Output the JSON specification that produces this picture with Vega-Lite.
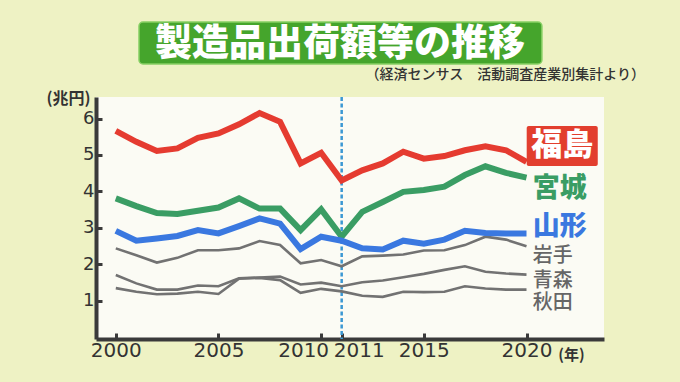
{
  "$schema": "https://vega.github.io/schema/vega-lite/v6.json",
  "width": 508,
  "height": 242,
  "autosize": {"type": "none"},
  "padding": {"left": 96, "top": 97, "right": 76, "bottom": 43},
  "background": "#eef2c4",
  "config": {"view": {"fill": "#fbfbf4", "stroke": null}, "font": "DejaVu Sans"},
  "title": {
    "text": "製造品出荷額等の推移",
    "font": "Noto Sans CJK JP",
    "fontSize": 37,
    "fontWeight": 900,
    "color": "#ffffff",
    "anchor": "middle",
    "dx": -10,
    "offset": -43
  },
  "datasets": {
    "series": [
      {"year": 2000, "pref": "福島", "value": 5.66}, {"year": 2001, "pref": "福島", "value": 5.36}, {"year": 2002, "pref": "福島", "value": 5.11}, {"year": 2003, "pref": "福島", "value": 5.18}, {"year": 2004, "pref": "福島", "value": 5.47}, {"year": 2005, "pref": "福島", "value": 5.59}, {"year": 2006, "pref": "福島", "value": 5.84}, {"year": 2007, "pref": "福島", "value": 6.15}, {"year": 2008, "pref": "福島", "value": 5.91}, {"year": 2009, "pref": "福島", "value": 4.77}, {"year": 2010, "pref": "福島", "value": 5.06}, {"year": 2011, "pref": "福島", "value": 4.30}, {"year": 2012, "pref": "福島", "value": 4.58}, {"year": 2013, "pref": "福島", "value": 4.77}, {"year": 2014, "pref": "福島", "value": 5.09}, {"year": 2015, "pref": "福島", "value": 4.90}, {"year": 2016, "pref": "福島", "value": 4.97}, {"year": 2017, "pref": "福島", "value": 5.13}, {"year": 2018, "pref": "福島", "value": 5.24}, {"year": 2019, "pref": "福島", "value": 5.13}, {"year": 2020, "pref": "福島", "value": 4.81},
      {"year": 2000, "pref": "宮城", "value": 3.81}, {"year": 2001, "pref": "宮城", "value": 3.60}, {"year": 2002, "pref": "宮城", "value": 3.41}, {"year": 2003, "pref": "宮城", "value": 3.38}, {"year": 2004, "pref": "宮城", "value": 3.47}, {"year": 2005, "pref": "宮城", "value": 3.56}, {"year": 2006, "pref": "宮城", "value": 3.81}, {"year": 2007, "pref": "宮城", "value": 3.53}, {"year": 2008, "pref": "宮城", "value": 3.53}, {"year": 2009, "pref": "宮城", "value": 2.94}, {"year": 2010, "pref": "宮城", "value": 3.51}, {"year": 2011, "pref": "宮城", "value": 2.76}, {"year": 2012, "pref": "宮城", "value": 3.44}, {"year": 2013, "pref": "宮城", "value": 3.71}, {"year": 2014, "pref": "宮城", "value": 3.99}, {"year": 2015, "pref": "宮城", "value": 4.04}, {"year": 2016, "pref": "宮城", "value": 4.13}, {"year": 2017, "pref": "宮城", "value": 4.45}, {"year": 2018, "pref": "宮城", "value": 4.69}, {"year": 2019, "pref": "宮城", "value": 4.51}, {"year": 2020, "pref": "宮城", "value": 4.38},
      {"year": 2000, "pref": "山形", "value": 2.92}, {"year": 2001, "pref": "山形", "value": 2.65}, {"year": 2002, "pref": "山形", "value": 2.71}, {"year": 2003, "pref": "山形", "value": 2.78}, {"year": 2004, "pref": "山形", "value": 2.94}, {"year": 2005, "pref": "山形", "value": 2.85}, {"year": 2006, "pref": "山形", "value": 3.05}, {"year": 2007, "pref": "山形", "value": 3.26}, {"year": 2008, "pref": "山形", "value": 3.12}, {"year": 2009, "pref": "山形", "value": 2.42}, {"year": 2010, "pref": "山形", "value": 2.76}, {"year": 2011, "pref": "山形", "value": 2.65}, {"year": 2012, "pref": "山形", "value": 2.44}, {"year": 2013, "pref": "山形", "value": 2.41}, {"year": 2014, "pref": "山形", "value": 2.65}, {"year": 2015, "pref": "山形", "value": 2.57}, {"year": 2016, "pref": "山形", "value": 2.68}, {"year": 2017, "pref": "山形", "value": 2.92}, {"year": 2018, "pref": "山形", "value": 2.86}, {"year": 2019, "pref": "山形", "value": 2.85}, {"year": 2020, "pref": "山形", "value": 2.85},
      {"year": 2000, "pref": "岩手", "value": 2.44}, {"year": 2001, "pref": "岩手", "value": 2.25}, {"year": 2002, "pref": "岩手", "value": 2.05}, {"year": 2003, "pref": "岩手", "value": 2.18}, {"year": 2004, "pref": "岩手", "value": 2.39}, {"year": 2005, "pref": "岩手", "value": 2.39}, {"year": 2006, "pref": "岩手", "value": 2.44}, {"year": 2007, "pref": "岩手", "value": 2.64}, {"year": 2008, "pref": "岩手", "value": 2.53}, {"year": 2009, "pref": "岩手", "value": 2.03}, {"year": 2010, "pref": "岩手", "value": 2.12}, {"year": 2011, "pref": "岩手", "value": 1.95}, {"year": 2012, "pref": "岩手", "value": 2.22}, {"year": 2013, "pref": "岩手", "value": 2.24}, {"year": 2014, "pref": "岩手", "value": 2.27}, {"year": 2015, "pref": "岩手", "value": 2.38}, {"year": 2016, "pref": "岩手", "value": 2.39}, {"year": 2017, "pref": "岩手", "value": 2.53}, {"year": 2018, "pref": "岩手", "value": 2.76}, {"year": 2019, "pref": "岩手", "value": 2.68}, {"year": 2020, "pref": "岩手", "value": 2.50},
      {"year": 2000, "pref": "青森", "value": 1.71}, {"year": 2001, "pref": "青森", "value": 1.48}, {"year": 2002, "pref": "青森", "value": 1.31}, {"year": 2003, "pref": "青森", "value": 1.31}, {"year": 2004, "pref": "青森", "value": 1.42}, {"year": 2005, "pref": "青森", "value": 1.40}, {"year": 2006, "pref": "青森", "value": 1.62}, {"year": 2007, "pref": "青森", "value": 1.64}, {"year": 2008, "pref": "青森", "value": 1.67}, {"year": 2009, "pref": "青森", "value": 1.45}, {"year": 2010, "pref": "青森", "value": 1.50}, {"year": 2011, "pref": "青森", "value": 1.40}, {"year": 2012, "pref": "青森", "value": 1.51}, {"year": 2013, "pref": "青森", "value": 1.56}, {"year": 2014, "pref": "青森", "value": 1.65}, {"year": 2015, "pref": "青森", "value": 1.74}, {"year": 2016, "pref": "青森", "value": 1.85}, {"year": 2017, "pref": "青森", "value": 1.95}, {"year": 2018, "pref": "青森", "value": 1.80}, {"year": 2019, "pref": "青森", "value": 1.75}, {"year": 2020, "pref": "青森", "value": 1.72},
      {"year": 2000, "pref": "秋田", "value": 1.35}, {"year": 2001, "pref": "秋田", "value": 1.25}, {"year": 2002, "pref": "秋田", "value": 1.18}, {"year": 2003, "pref": "秋田", "value": 1.20}, {"year": 2004, "pref": "秋田", "value": 1.25}, {"year": 2005, "pref": "秋田", "value": 1.19}, {"year": 2006, "pref": "秋田", "value": 1.61}, {"year": 2007, "pref": "秋田", "value": 1.63}, {"year": 2008, "pref": "秋田", "value": 1.57}, {"year": 2009, "pref": "秋田", "value": 1.22}, {"year": 2010, "pref": "秋田", "value": 1.33}, {"year": 2011, "pref": "秋田", "value": 1.26}, {"year": 2012, "pref": "秋田", "value": 1.14}, {"year": 2013, "pref": "秋田", "value": 1.11}, {"year": 2014, "pref": "秋田", "value": 1.25}, {"year": 2015, "pref": "秋田", "value": 1.24}, {"year": 2016, "pref": "秋田", "value": 1.25}, {"year": 2017, "pref": "秋田", "value": 1.40}, {"year": 2018, "pref": "秋田", "value": 1.34}, {"year": 2019, "pref": "秋田", "value": 1.31}, {"year": 2020, "pref": "秋田", "value": 1.31}
    ]
  },
  "layer": [
    {
      "data": {"values": [{"year": 2001.13, "year2": 2020.75, "value": 8.646, "value2": 7.495}]},
      "mark": {"type": "rect", "fill": "#45a52c", "stroke": "#86cf63", "strokeWidth": 1.5, "cornerRadius": 4},
      "encoding": {
        "x": {"field": "year", "type": "quantitative", "scale": {"domain": [1999.036, 2023.774]}},
        "x2": {"field": "year2"},
        "y": {"field": "value", "type": "quantitative", "scale": {"domain": [-0.045, 6.59]}},
        "y2": {"field": "value2"}
      }
    },
    {
      "data": {"values": [{"year": 2011}]},
      "mark": {"type": "rule", "color": "#3b98d3", "strokeDash": [4, 2.5], "strokeWidth": 2.5},
      "encoding": {
        "x": {"field": "year", "type": "quantitative", "scale": {"domain": [1999.036, 2023.774]}}
      }
    },
    {
      "data": {"name": "series"},
      "transform": [{"filter": {"field": "pref", "oneOf": ["岩手", "青森", "秋田"]}}],
      "mark": {"type": "line", "strokeWidth": 2.6},
      "encoding": {
        "x": {
          "field": "year", "type": "quantitative",
          "scale": {"domain": [1999.036, 2023.774]},
          "axis": {
            "values": [2000, 2005, 2010, 2011, 2015, 2020],
            "format": "d",
            "title": "(年)",
            "titleX": 475, "titleY": 15,
            "titleAlign": "center", "titleBaseline": "middle",
            "titleFont": "Noto Sans CJK JP", "titleFontSize": 15, "titleFontWeight": "bold", "titleColor": "#333333",
            "labelFont": "DejaVu Sans", "labelFontSize": 20, "labelColor": "#333333",
            "labelPadding": 7, "labelFlush": false, "labelOverlap": false,
            "labelOffset": {"condition": [{"test": "datum.value == 2010", "value": -18}, {"test": "datum.value == 2011", "value": 17}], "value": 0},
            "domainColor": "#3a3a3a", "domainWidth": 4,
            "tickColor": "#3a3a3a", "tickWidth": 3, "tickSize": -6,
            "grid": false
          }
        },
        "y": {
          "field": "value", "type": "quantitative",
          "scale": {"domain": [-0.045, 6.59]},
          "axis": {
            "values": [1, 2, 3, 4, 5, 6],
            "title": "(兆円)",
            "titleAngle": 0, "titleX": -28, "titleY": 1,
            "titleAlign": "center", "titleBaseline": "middle",
            "titleFont": "Noto Sans CJK JP", "titleFontSize": 16, "titleFontWeight": "bold", "titleColor": "#333333",
            "labelFont": "DejaVu Sans", "labelFontSize": 18, "labelColor": "#333333",
            "labelPadding": 8,
            "domainColor": "#3a3a3a", "domainWidth": 4,
            "tickColor": "#3a3a3a", "tickWidth": 3, "tickSize": -6,
            "grid": false
          }
        },
        "color": {
          "field": "pref", "type": "nominal", "legend": null,
          "scale": {"domain": ["福島", "宮城", "山形", "岩手", "青森", "秋田"], "range": ["#e53b30", "#3a9d64", "#3a78e0", "#727272", "#727272", "#727272"]}
        }
      }
    },
    {
      "data": {"name": "series"},
      "transform": [{"filter": {"field": "pref", "oneOf": ["福島", "宮城", "山形"]}}],
      "mark": {"type": "line", "strokeWidth": 6},
      "encoding": {
        "x": {"field": "year", "type": "quantitative", "scale": {"domain": [1999.036, 2023.774]}},
        "y": {"field": "value", "type": "quantitative", "scale": {"domain": [-0.045, 6.59]}},
        "color": {"field": "pref", "type": "nominal", "legend": null}
      }
    },
    {
      "data": {"values": [{"year": 2020.01, "year2": 2023.47, "value": 5.795, "value2": 4.698}]},
      "mark": {"type": "rect", "fill": "#e23e2e", "cornerRadius": 2},
      "encoding": {
        "x": {"field": "year", "type": "quantitative", "scale": {"domain": [1999.036, 2023.774]}},
        "x2": {"field": "year2"},
        "y": {"field": "value", "type": "quantitative", "scale": {"domain": [-0.045, 6.59]}},
        "y2": {"field": "value2"}
      }
    },
    {
      "data": {"values": [{"name": "福島", "year": 2021.74, "value": 5.24}]},
      "mark": {"type": "text", "font": "Noto Sans CJK JP", "fontSize": 31, "fontWeight": 900, "color": "#ffffff", "align": "center", "baseline": "middle"},
      "encoding": {
        "x": {"field": "year", "type": "quantitative", "scale": {"domain": [1999.036, 2023.774]}},
        "y": {"field": "value", "type": "quantitative", "scale": {"domain": [-0.045, 6.59]}},
        "text": {"field": "name"}
      }
    },
    {
      "data": {"values": [{"name": "宮城", "year": 2020.31, "value": 4.06}, {"name": "山形", "year": 2020.31, "value": 3.03}]},
      "mark": {"type": "text", "font": "Noto Sans CJK JP", "fontSize": 27, "fontWeight": 900, "align": "left", "baseline": "middle"},
      "encoding": {
        "x": {"field": "year", "type": "quantitative", "scale": {"domain": [1999.036, 2023.774]}},
        "y": {"field": "value", "type": "quantitative", "scale": {"domain": [-0.045, 6.59]}},
        "text": {"field": "name"},
        "color": {"field": "name", "type": "nominal", "legend": null}
      }
    },
    {
      "data": {"values": [{"name": "岩手", "year": 2020.31, "value": 2.24}, {"name": "青森", "year": 2020.31, "value": 1.55}, {"name": "秋田", "year": 2020.31, "value": 0.93}]},
      "mark": {"type": "text", "font": "Noto Sans CJK JP", "fontSize": 20, "fontWeight": 500, "color": "#666666", "align": "left", "baseline": "middle"},
      "encoding": {
        "x": {"field": "year", "type": "quantitative", "scale": {"domain": [1999.036, 2023.774]}},
        "y": {"field": "value", "type": "quantitative", "scale": {"domain": [-0.045, 6.59]}},
        "text": {"field": "name"}
      }
    },
    {
      "data": {"values": [{"note": "（経済センサス　活動調査産業別集計より）", "year": 2025.77, "value": 7.19}]},
      "mark": {"type": "text", "font": "Noto Sans CJK JP", "fontSize": 14, "fontWeight": 500, "color": "#333333", "align": "right", "baseline": "middle"},
      "encoding": {
        "x": {"field": "year", "type": "quantitative", "scale": {"domain": [1999.036, 2023.774]}},
        "y": {"field": "value", "type": "quantitative", "scale": {"domain": [-0.045, 6.59]}},
        "text": {"field": "note"}
      }
    }
  ]
}
